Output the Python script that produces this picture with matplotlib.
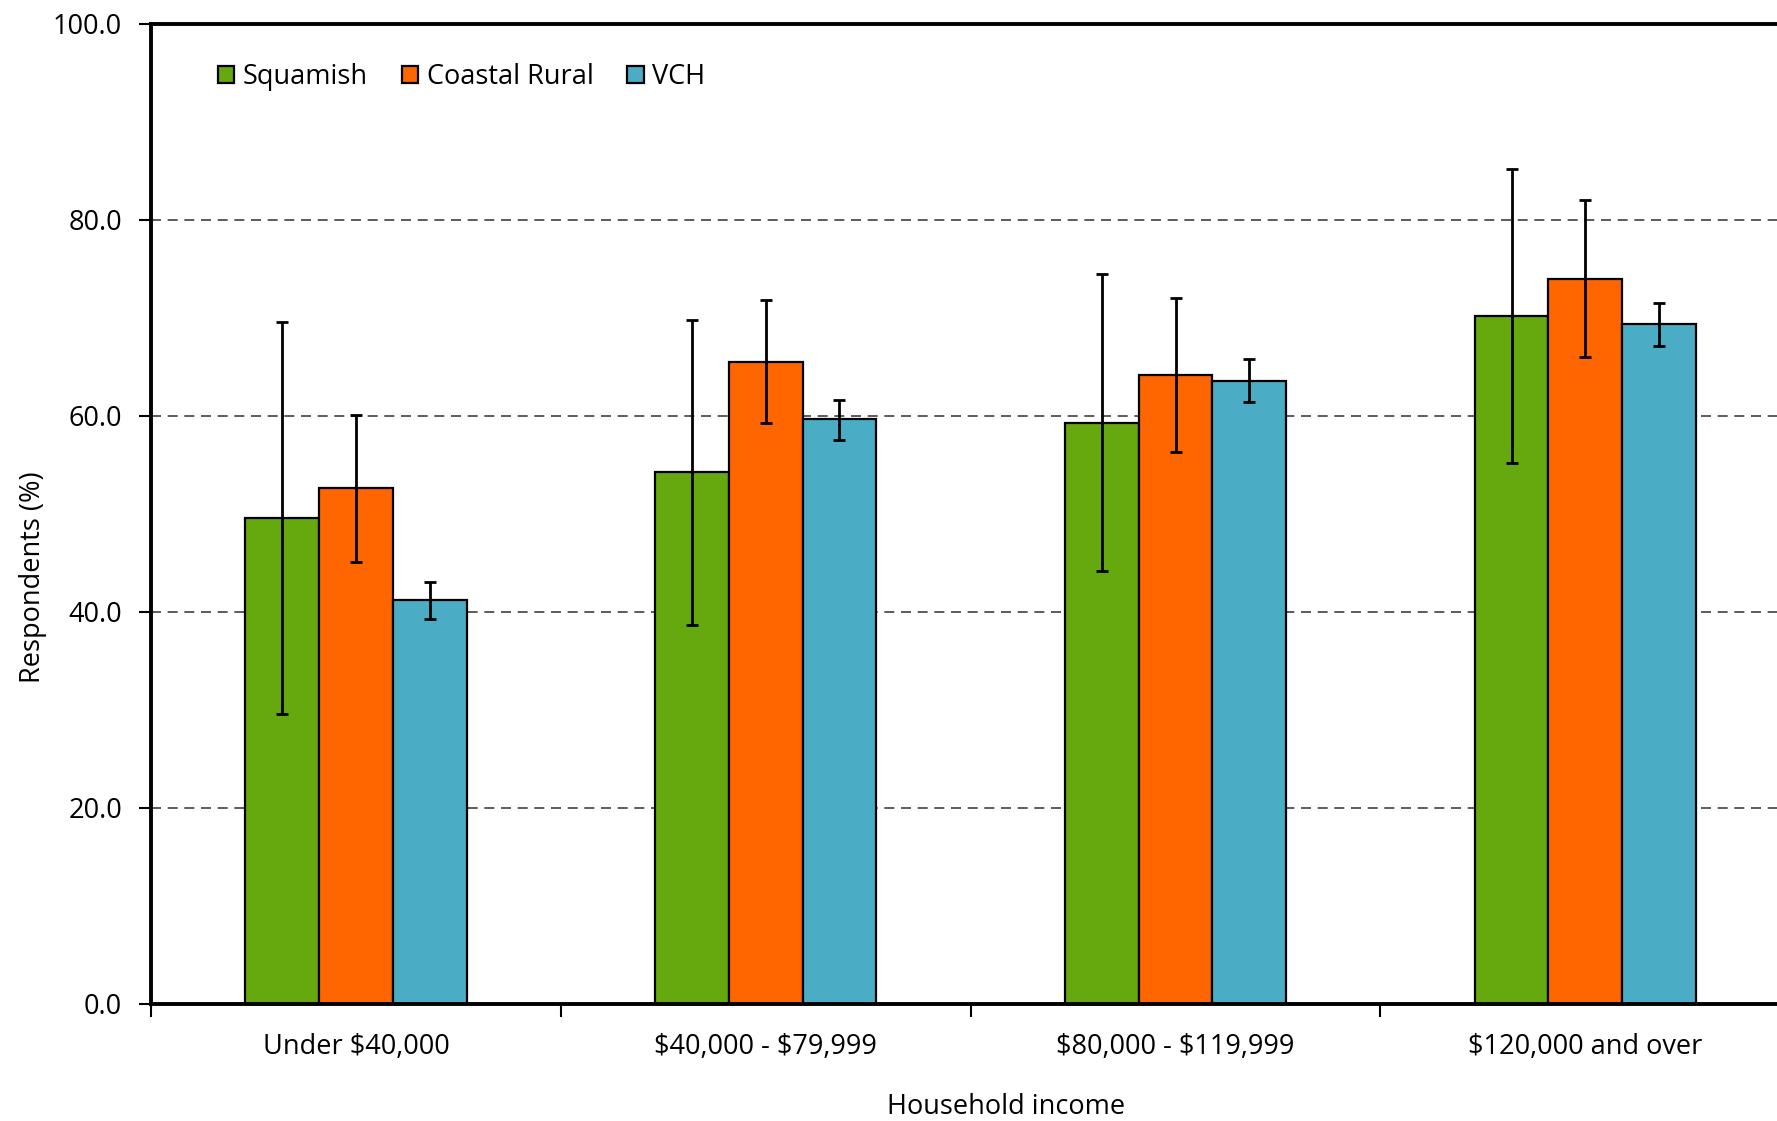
import matplotlib.pyplot as plt
import numpy as np

plt.rcParams['font.family'] = ['Open Sans', 'DejaVu Sans']

categories = ['Under \\$40,000', '\\$40,000 - \\$79,999', '\\$80,000 - \\$119,999', '\\$120,000 and over']
series = ['Squamish', 'Coastal Rural', 'VCH']
colors = ['#66A90E', '#FF6600', '#4BACC6']

# estimates and 95% CI bounds (%)
squamish = [49.6, 54.3, 59.3, 70.2]
squamish_lo = [29.6, 38.7, 44.2, 55.2]
squamish_hi = [69.6, 69.8, 74.5, 85.2]

coastal = [52.6, 65.5, 64.2, 74.0]
coastal_lo = [45.1, 59.3, 56.3, 66.0]
coastal_hi = [60.1, 71.8, 72.0, 82.0]

vch = [41.2, 59.7, 63.6, 69.4]
vch_lo = [39.3, 57.6, 61.4, 67.1]
vch_hi = [43.1, 61.6, 65.8, 71.5]

values = [squamish, coastal, vch]
lows = [squamish_lo, coastal_lo, vch_lo]
highs = [squamish_hi, coastal_hi, vch_hi]

fs = 19.5

fig = plt.figure(figsize=(17.77, 11.21), dpi=100)
ax = fig.add_axes([0.085, 0.1044, 0.915, 0.8742])

x = np.arange(len(categories))
w = 0.18
for i, (name, vals, lo, hi, c) in enumerate(zip(series, values, lows, highs, colors)):
    vals = np.array(vals)
    pos = x + (i - 1) * w
    ax.bar(pos, vals, w, color=c, edgecolor='black', linewidth=1.6, label=name, zorder=2)
    yerr = [vals - np.array(lo), np.array(hi) - vals]
    ax.errorbar(pos, vals, yerr=yerr, fmt='none', ecolor='black', elinewidth=2,
                capsize=4.3, capthick=2, zorder=3)

ax.set_yticks(np.arange(0, 101, 20))
ax.set_yticklabels([f'{v:.1f}' for v in np.arange(0, 101, 20)])
ax.yaxis.grid(True, linestyle=(0, (6, 4)), color='#404040', linewidth=1.2, zorder=0)
ax.set_axisbelow(True)

ax.set_xticks(np.arange(-0.5, 4, 1))
ax.set_xticklabels([])
ax.set_xticks(x, minor=True)
ax.set_xticklabels(categories, minor=True)
ax.tick_params(axis='x', which='minor', length=0, pad=21, labelsize=fs)
ax.tick_params(axis='x', which='major', length=9, width=1.5, direction='out')
ax.tick_params(axis='y', length=9, width=1.5, direction='out', labelsize=fs, pad=12)

# limits after ticks (set_xticks widens the view)
ax.set_ylim(0, 100)
ax.set_xlim(-0.5, -0.5 + (1777 - 151) / 409.8)

for s in ['left', 'bottom', 'top']:
    ax.spines[s].set_linewidth(2.8)
ax.spines['right'].set_visible(False)

ax.set_ylabel('Respondents (%)', fontsize=fs)
ax.yaxis.set_label_coords(-0.064, 0.435)
ax.set_xlabel('Household income', fontsize=fs)
ax.xaxis.set_label_coords(0.526, -0.091)

leg = ax.legend(loc='upper left', bbox_to_anchor=(0.026, 0.985), ncol=3, frameon=False,
                fontsize=fs, handlelength=0.62, handleheight=0.62, handletextpad=0.3,
                columnspacing=1.25)

fig.savefig('out.png', dpi=100)
